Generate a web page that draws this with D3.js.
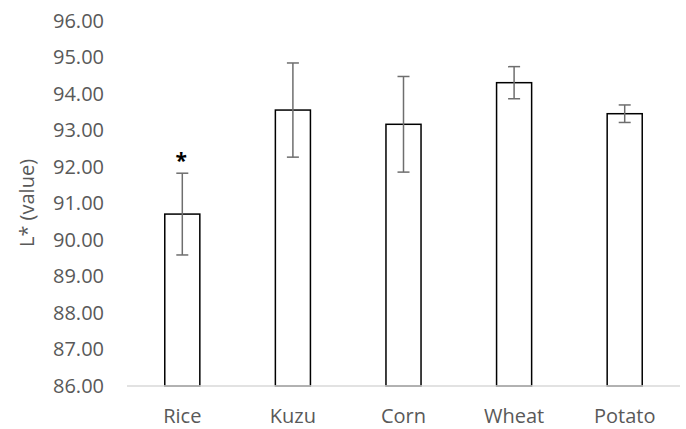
<!DOCTYPE html>
<html>
<head>
<meta charset="utf-8">
<script src="https://cdn.jsdelivr.net/npm/d3@7"></script>
<style>
  body { margin: 0; background: #fff; }
  svg text { font-family: "Open Sans", "Liberation Sans", sans-serif; }
</style>
</head>
<body>
<div id="chart"></div>
<script>
// Chart data
const categories = ['Rice', 'Kuzu', 'Corn', 'Wheat', 'Potato'];
const means = [90.71, 93.56, 93.17, 94.31, 93.46];
const errors = [1.12, 1.29, 1.31, 0.44, 0.24];
const marks = ['*', '', '', '', ''];
const yTicks = [86, 87, 88, 89, 90, 91, 92, 93, 94, 95, 96];

const width = 686;
const height = 429;
const margin = { top: 21, right: 6, bottom: 43, left: 127 };
const fontSize = 20;

const svg = d3.select('#chart').append('svg')
  .attr('width', width)
  .attr('height', height);

const x = d3.scaleBand()
  .domain(categories)
  .range([margin.left, width - margin.right])
  .paddingInner(0.683)
  .paddingOuter(0.3415);

const y = d3.scaleLinear()
  .domain([86, 96])
  .range([height - margin.bottom, margin.top]);

// Y axis labels (no line, no ticks)
const yAxis = d3.axisLeft(y)
  .tickValues(yTicks)
  .tickFormat(d3.format('.2f'))
  .tickSize(0)
  .tickPadding(23);

svg.append('g')
  .attr('transform', `translate(${margin.left},0)`)
  .call(yAxis)
  .call(g => g.select('.domain').remove())
  .selectAll('text')
  .attr('fill', '#595959')
  .attr('font-size', fontSize);

// Bars
svg.selectAll('rect.bar')
  .data(categories)
  .join('rect')
  .attr('class', 'bar')
  .attr('x', d => x(d))
  .attr('y', (d, i) => y(means[i]))
  .attr('width', x.bandwidth())
  .attr('height', (d, i) => y(86) - y(means[i]))
  .attr('fill', '#fff')
  .attr('stroke', '#000')
  .attr('stroke-width', 1.5);

// Error bars
const cap = 6;
const err = svg.append('g')
  .attr('stroke', '#6e6e6e')
  .attr('stroke-width', 1.5);

categories.forEach((c, i) => {
  const cx = x(c) + x.bandwidth() / 2;
  const top = y(means[i] + errors[i]);
  const bot = y(means[i] - errors[i]);
  err.append('line').attr('x1', cx).attr('x2', cx).attr('y1', top).attr('y2', bot);
  err.append('line').attr('x1', cx - cap).attr('x2', cx + cap).attr('y1', top).attr('y2', top);
  err.append('line').attr('x1', cx - cap).attr('x2', cx + cap).attr('y1', bot).attr('y2', bot);

  if (marks[i]) {
    svg.append('text')
      .attr('x', cx - 1)
      .attr('y', top - 5)
      .attr('text-anchor', 'middle')
      .attr('font-size', 21)
      .attr('font-weight', 'bold')
      .attr('fill', '#000')
      .text(marks[i]);
  }
});

// X axis
const xAxis = d3.axisBottom(x).tickSize(0).tickPadding(23);
svg.append('g')
  .attr('transform', `translate(0,${y(86)})`)
  .call(xAxis)
  .call(g => g.select('.domain').attr('stroke', '#d9d9d9').attr('stroke-width', 1.5)
    .attr('d', `M${margin.left},0H${width - margin.right}`))
  .selectAll('text')
  .attr('fill', '#595959')
  .attr('font-size', fontSize);

// Y axis title
svg.append('text')
  .attr('transform', 'translate(34,203) rotate(-90)')
  .attr('text-anchor', 'middle')
  .attr('fill', '#595959')
  .attr('font-size', fontSize)
  .text('L* (value)');
</script>
</body>
</html>
